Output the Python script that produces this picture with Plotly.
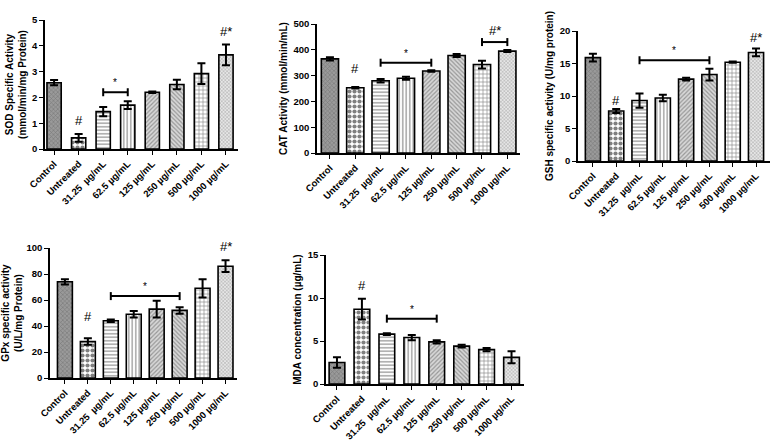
import plotly.graph_objects as go

categories = ["Control", "Untreated", "31.25  µg/mL", "62.5 µg/mL", "125 µg/mL",
              "250 µg/mL", "500 µg/mL", "1000 µg/mL"]

sod_mean = [2.57, 0.43, 1.45, 1.70, 2.20, 2.50, 2.92, 3.65]
sod_err = [0.10, 0.15, 0.18, 0.15, 0.03, 0.18, 0.40, 0.40]
cat_mean = [365, 253, 280, 290, 318, 378, 343, 395]
cat_err = [6, 3, 7, 6, 3, 6, 15, 4]
gsh_mean = [15.9, 7.7, 9.3, 9.7, 12.6, 13.3, 15.2, 16.7]
gsh_err = [0.6, 0.3, 1.1, 0.5, 0.2, 0.9, 0.1, 0.6]
gpx_mean = [74, 28, 44, 49, 53, 52, 69, 86]
gpx_err = [2, 2.5, 1, 2.5, 6.5, 2.5, 7, 4.5]
mda_mean = [2.5, 8.7, 5.8, 5.4, 4.9, 4.4, 4.0, 3.1]
mda_err = [0.6, 1.2, 0.1, 0.3, 0.2, 0.15, 0.2, 0.7]

# significance marks: (category index, y value, text)
sod_marks = [(1, 0.72, "#"), (7, 4.2, "#*")]
cat_marks = [(1, 292, "#")]
gsh_marks = [(1, 7.9, "#"), (7, 17.6, "#*")]
gpx_marks = [(1, 40, "#"), (7, 94, "#*")]
mda_marks = [(1, 10.4, "#")]
# brackets: (start index, end index, y value, text)
sod_brackets = [(2, 3, 2.2, "*")]
cat_brackets = [(2, 4, 350, "*"), (6, 7, 430, "#*")]
gsh_brackets = [(2, 5, 15.5, "*")]
gpx_brackets = [(2, 5, 63, "*")]
mda_brackets = [(2, 4, 7.6, "*")]

W, H = 773, 445

patterns = [
    dict(color="#9a9a9a", pattern=dict(shape="x", fgcolor="#555", size=3, solidity=0.35)),
    dict(color="white", pattern=dict(shape=".", fgcolor="black", size=5, solidity=0.55)),
    dict(color="white", pattern=dict(shape="-", fgcolor="#222", size=3.5, solidity=0.35)),
    dict(color="white", pattern=dict(shape="|", fgcolor="#222", size=3.5, solidity=0.35)),
    dict(color="#d8d8d8", pattern=dict(shape="/", fgcolor="#555", size=3, solidity=0.4)),
    dict(color="#d8d8d8", pattern=dict(shape="\\", fgcolor="#555", size=3, solidity=0.4)),
    dict(color="white", pattern=dict(shape="+", fgcolor="#111", size=4, solidity=0.3)),
    dict(color="#e6e6e6", pattern=dict(shape="x", fgcolor="#666", size=2.5, solidity=0.35)),
]

# panel geometry in pixels: (axis left, axis right, top, bottom), category range
panels = [
    dict(mean=sod_mean, err=sod_err, ymax=5, dtick=1, px=(45, 238, 20, 149), xr=(-0.37, 7.49),
         bw=0.58, title="SOD Specific Activity<br>(mmol/min/mg Protein)",
         marks=sod_marks, brackets=sod_brackets),
    dict(mean=cat_mean, err=cat_err, ymax=500, dtick=100, px=(317, 520, 24, 153), xr=(-0.51, 7.5),
         bw=0.68, title="CAT Activity (mmol/min/mL)", marks=cat_marks, brackets=cat_brackets),
    dict(mean=gsh_mean, err=gsh_err, ymax=20, dtick=5, px=(578, 770, 31, 161), xr=(-0.64, 7.6),
         bw=0.65, title="GSH specific activity (U/mg protein)", marks=gsh_marks, brackets=gsh_brackets),
    dict(mean=gpx_mean, err=gpx_err, ymax=100, dtick=20, px=(50, 237, 248, 378), xr=(-0.65, 7.5),
         bw=0.65, title="GPx specific activity<br>(U/L/mg Protein)", marks=gpx_marks, brackets=gpx_brackets),
    dict(mean=mda_mean, err=mda_err, ymax=15, dtick=5, px=(326, 524, 255, 384), xr=(-0.44, 7.5),
         bw=0.63, title="MDA concentration (µg/mL)", marks=mda_marks, brackets=mda_brackets),
]

FONT = "Liberation Sans, Arial, sans-serif"
fig = go.Figure()
shapes = []
annotations = []

for k, p in enumerate(panels):
    n = "" if k == 0 else str(k + 1)
    xa, ya = "x" + n, "y" + n
    for i, cat in enumerate(categories):
        st = patterns[i]
        fig.add_trace(go.Bar(
            x=[cat], y=[p["mean"][i]], xaxis=xa, yaxis=ya, width=p["bw"],
            marker=dict(color=st["color"], pattern=st["pattern"],
                        line=dict(color="black", width=1.6)),
            error_y=dict(type="data", array=[p["err"][i]], color="black", thickness=2, width=4),
            showlegend=False, hoverinfo="skip"))
    l, r, t, b = p["px"]
    layout_x = dict(domain=[l / W, r / W], anchor=ya, type="category", categoryorder="array",
                    categoryarray=categories, range=list(p["xr"]), showline=True, linecolor="black",
                    linewidth=1.5, ticks="outside", ticklen=4, tickcolor="black", tickangle=-45,
                    tickfont=dict(family=FONT, size=9.5, color="black", weight="bold"), showgrid=False,
                    zeroline=False, fixedrange=True, automargin=False)
    layout_y = dict(domain=[1 - b / H, 1 - t / H], anchor=xa, range=[0, p["ymax"]], dtick=p["dtick"],
                    showline=True, linecolor="black", linewidth=1.5, ticks="outside", ticklen=4,
                    tickcolor="black", tickfont=dict(family=FONT, size=9.5, color="black", weight="bold"),
                    showgrid=False, zeroline=False, automargin=False,
                    title=dict(text=p["title"], font=dict(family=FONT, size=10, color="black", weight="bold"),
                               standoff=4))
    fig.layout["xaxis" + n] = layout_x
    fig.layout["yaxis" + n] = layout_y
    for (ci, yv, txt) in p["marks"]:
        annotations.append(dict(x=ci, y=yv, xref=xa, yref=ya, text=txt, showarrow=False,
                                yanchor="bottom", font=dict(family=FONT, size=13, color="black")))
    for (a, c, yv, txt) in p["brackets"]:
        shapes.append(dict(type="line", xref=xa, yref=ya, x0=a, x1=c, y0=yv, y1=yv,
                           line=dict(color="black", width=2)))
        for xe in (a, c):
            shapes.append(dict(type="line", xref=xa, yref=ya, x0=xe, x1=xe, ysizemode="pixel",
                               yanchor=yv, y0=-4, y1=4, line=dict(color="black", width=2)))
        annotations.append(dict(x=(a + c) / 2, y=yv, xref=xa, yref=ya, text=txt, showarrow=False,
                                yanchor="bottom", yshift=2,
                                font=dict(family=FONT, size=13 if "#" in txt else 10, color="black")))

fig.update_layout(width=W, height=H, margin=dict(l=0, r=0, t=0, b=0), paper_bgcolor="white",
                  plot_bgcolor="white", shapes=shapes, annotations=annotations, bargap=0.3)
fig.write_html("out.html", config={"displayModeBar": False},
               post_script="document.body.style.margin='0px';document.body.style.overflow='hidden';")
